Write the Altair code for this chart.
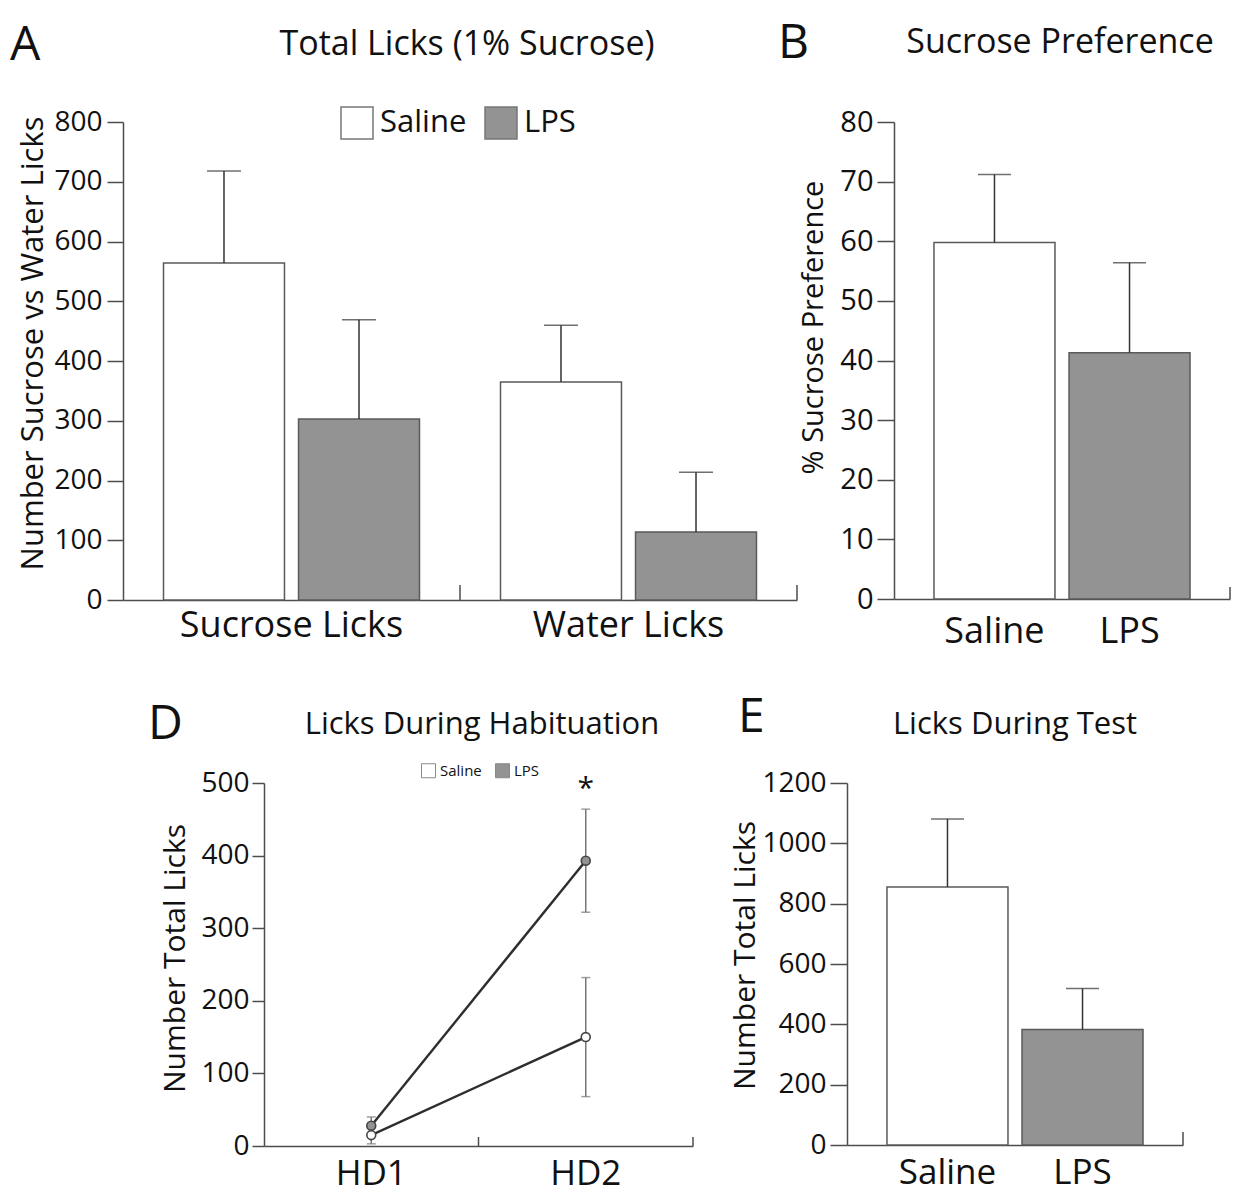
import altair as alt
import pandas as pd

FONT = "Open Sans"
AX = "#4d4d4d"
INK = "#111111"

groups = ["Saline", "LPS"]
group_fills = ["#ffffff", "#939393"]

panel_letters = ["A", "B", "D", "E"]
panel_titles = ["Total Licks (1% Sucrose)", "Sucrose Preference",
                "Licks During Habituation", "Licks During Test"]

# Panel A
a_categories = ["Sucrose Licks", "Water Licks"]
a_saline_mean = [564, 365]
a_saline_sem = [154, 95]
a_lps_mean = [303, 114]
a_lps_sem = [166, 100]
a_ticks = [0, 100, 200, 300, 400, 500, 600, 700, 800]

# Panel B
b_mean = [59.8, 41.3]
b_sem = [11.4, 15.1]
b_ticks = [0, 10, 20, 30, 40, 50, 60, 70, 80]

# Panel D
d_days = ["HD1", "HD2"]
d_saline_mean = [15, 150]
d_saline_sem = [12, 82]
d_lps_mean = [28, 393]
d_lps_sem = [12, 71]
d_ticks = [0, 100, 200, 300, 400, 500]
d_sig_day = ["HD2"]
d_sig_y = [480]

# Panel E
e_mean = [855, 383]
e_sem = [226, 136]
e_ticks = [0, 200, 400, 600, 800, 1000, 1200]


def yaxis(values, title, tick, pad, lab_fs, tx, ty, tfs):
    return alt.Axis(values=values, title=title, tickSize=tick, labelPadding=pad,
                    labelFontSize=lab_fs, labelFont=FONT, labelColor=INK, format="d",
                    titleX=tx, titleY=ty, titleFontSize=tfs, titleFont=FONT,
                    titleFontWeight="normal", titleColor=INK, grid=False,
                    domainColor=AX, tickColor=AX, domainWidth=1.5, tickWidth=1.5,
                    labelFlush=False, labelOverlap=False)


def xaxis(pad, fs=36):
    return alt.Axis(title=None, ticks=False, labelAngle=0, labelFontSize=fs,
                    labelFont=FONT, labelColor=INK, labelPadding=pad, labelLimit=500,
                    domainColor=AX, domainWidth=1.5)


def text_layer(txt, dx, dy, fs, align="left"):
    return alt.Chart(pd.DataFrame({"t": [txt]})).mark_text(
        align=align, baseline="alphabetic", fontSize=fs, font=FONT, color=INK
    ).encode(text="t:N", x=alt.value(dx), y=alt.value(dy))


def end_tick(xpx, h, ln):
    return alt.Chart(pd.DataFrame({"k": [0]})).mark_rule(color=AX, strokeWidth=1.5).encode(
        x=alt.value(xpx), y=alt.value(h - ln), y2=alt.value(h))


def spacer(w, h):
    return alt.Chart(pd.DataFrame({"k": [0]})).mark_text(text="").encode(
        x=alt.value(0), y=alt.value(0)).properties(width=w, height=h)


# ---------------- Panel A ----------------
AW, AH = 674, 478
a_df = pd.DataFrame({
    "category": a_categories + a_categories,
    "group": ["Saline", "Saline", "LPS", "LPS"],
    "mean": a_saline_mean + a_lps_mean,
    "sem": a_saline_sem + a_lps_sem,
})
a_df["upper"] = a_df["mean"] + a_df["sem"]
a_base = alt.Chart(a_df)
a_x = alt.X("category:N", sort=a_categories,
            scale=alt.Scale(paddingInner=0, paddingOuter=0), axis=xaxis(8))
a_xo = alt.XOffset("group:N", sort=groups,
                   scale=alt.Scale(domain=groups, paddingInner=0.104, paddingOuter=0.3))
a_yscale = alt.Scale(domain=[0, 800], nice=False)
a_yaxis = yaxis(a_ticks, "Number Sucrose vs Water Licks", 16, 5, 28, -74, 221, 31)
a_bars = a_base.mark_bar(stroke="#5a5a5a", strokeWidth=1.5).encode(
    x=a_x, xOffset=a_xo,
    y=alt.Y("mean:Q", scale=a_yscale, axis=a_yaxis),
    fill=alt.Fill("group:N", sort=groups,
                  scale=alt.Scale(domain=groups, range=group_fills),
                  legend=alt.Legend(title=None, orient="none", legendX=217, legendY=-16,
                                    direction="horizontal", symbolType="square",
                                    symbolSize=1024, symbolStrokeColor="#777777",
                                    symbolStrokeWidth=1.5, labelFontSize=31, labelFont=FONT,
                                    labelColor=INK, labelOffset=6, columnPadding=15,
                                    padding=0)),
)
a_err = a_base.mark_rule(color="#333333", strokeWidth=1.5).encode(
    x=a_x, xOffset=a_xo, y=alt.Y("mean:Q", scale=a_yscale, axis=a_yaxis), y2="upper:Q")
a_cap = a_base.mark_tick(orient="horizontal", size=34, thickness=1.5, color="#333333").encode(
    x=a_x, xOffset=a_xo, y=alt.Y("upper:Q", scale=a_yscale, axis=a_yaxis))
panel_a = alt.layer(
    a_bars, a_err, a_cap,
    end_tick(AW / 2, AH, 15), end_tick(AW, AH, 15),
    text_layer(panel_letters[0], -113, -62, 48),
    text_layer(panel_titles[0], 344, -67, 34, "center"),
).properties(width=AW, height=AH)

# ---------------- Panel B ----------------
BW, BH = 336, 477
b_df = pd.DataFrame({"group": groups, "mean": b_mean, "sem": b_sem})
b_df["upper"] = b_df["mean"] + b_df["sem"]
b_base = alt.Chart(b_df)
b_x = alt.X("group:N", sort=groups,
            scale=alt.Scale(paddingInner=0.104, paddingOuter=0.296), axis=xaxis(15))
b_yscale = alt.Scale(domain=[0, 80], nice=False)
b_yaxis = yaxis(b_ticks, "% Sucrose Preference", 17, 4, 29, -66, 205, 29)
b_bars = b_base.mark_bar(stroke="#5a5a5a", strokeWidth=1.5).encode(
    x=b_x,
    y=alt.Y("mean:Q", scale=b_yscale, axis=b_yaxis),
    fill=alt.Fill("group:N", sort=groups,
                  scale=alt.Scale(domain=groups, range=group_fills), legend=None),
)
b_err = b_base.mark_rule(color="#333333", strokeWidth=1.5).encode(
    x=b_x, y=alt.Y("mean:Q", scale=b_yscale, axis=b_yaxis), y2="upper:Q")
b_cap = b_base.mark_tick(orient="horizontal", size=33, thickness=1.5, color="#333333").encode(
    x=b_x, y=alt.Y("upper:Q", scale=b_yscale, axis=b_yaxis))
panel_b = alt.layer(
    b_bars, b_err, b_cap,
    end_tick(BW, BH, 12),
    text_layer(panel_letters[1], -116, -64, 48),
    text_layer(panel_titles[1], 166, -69, 34, "center"),
).properties(width=BW, height=BH)

# ---------------- Panel D ----------------
DW, DH = 429, 363
d_df = pd.DataFrame({
    "day": d_days + d_days,
    "group": ["Saline", "Saline", "LPS", "LPS"],
    "mean": d_saline_mean + d_lps_mean,
    "sem": d_saline_sem + d_lps_sem,
})
d_df["low"] = d_df["mean"] - d_df["sem"]
d_df["high"] = d_df["mean"] + d_df["sem"]
d_base = alt.Chart(d_df)
d_x = alt.X("day:N", sort=d_days, scale=alt.Scale(paddingInner=0, paddingOuter=0),
            axis=xaxis(10, 35))
d_yscale = alt.Scale(domain=[0, 500], nice=False)
d_yaxis = yaxis(d_ticks, "Number Total Licks", 12, 3, 28, -74, 175, 30)
d_err = d_base.mark_rule(color="#777777", strokeWidth=1.5).encode(
    x=d_x, y=alt.Y("low:Q", scale=d_yscale, axis=d_yaxis), y2="high:Q")
d_cap_hi = d_base.mark_tick(orient="horizontal", size=9, thickness=1.5, color="#777777").encode(
    x=d_x, y=alt.Y("high:Q", scale=d_yscale, axis=d_yaxis))
d_cap_lo = d_base.mark_tick(orient="horizontal", size=9, thickness=1.5, color="#777777").encode(
    x=d_x, y=alt.Y("low:Q", scale=d_yscale, axis=d_yaxis))
d_lines = d_base.mark_line(color="#2e2e2e", strokeWidth=2.4).encode(
    x=d_x, y=alt.Y("mean:Q", scale=d_yscale, axis=d_yaxis), detail="group:N")
d_points = d_base.mark_point(filled=True, shape="circle", size=80, stroke="#444444",
                             strokeWidth=1.6, opacity=1).encode(
    x=d_x, y=alt.Y("mean:Q", scale=d_yscale, axis=d_yaxis),
    fill=alt.Fill("group:N", sort=groups,
                  scale=alt.Scale(domain=groups, range=group_fills),
                  legend=alt.Legend(title=None, orient="none", legendX=298, legendY=-20,
                                    direction="horizontal", symbolType="square",
                                    symbolSize=196, symbolStrokeColor="#888888",
                                    symbolStrokeWidth=1, labelFontSize=15, labelFont=FONT,
                                    labelColor=INK, labelOffset=4, columnPadding=11,
                                    padding=0)),
)
d_sig = alt.Chart(pd.DataFrame({"day": d_sig_day, "y": d_sig_y, "t": ["*"]})).mark_text(
    fontSize=30, font=FONT, color=INK, baseline="alphabetic").encode(
    x=d_x, y=alt.Y("y:Q", scale=d_yscale, axis=d_yaxis), text="t:N")
panel_d = alt.layer(
    d_err, d_cap_hi, d_cap_lo, d_lines, d_points, d_sig,
    end_tick(DW / 2, DH, 9), end_tick(DW, DH, 9),
    text_layer(panel_letters[2], -116, -44, 48),
    text_layer(panel_titles[2], 218, -49, 31, "center"),
).properties(width=DW, height=DH)

# ---------------- Panel E ----------------
EW, EH = 336, 362
e_df = pd.DataFrame({"group": groups, "mean": e_mean, "sem": e_sem})
e_df["upper"] = e_df["mean"] + e_df["sem"]
e_base = alt.Chart(e_df)
e_x = alt.X("group:N", sort=groups,
            scale=alt.Scale(paddingInner=0.104, paddingOuter=0.296), axis=xaxis(10, 35))
e_yscale = alt.Scale(domain=[0, 1200], nice=False)
e_yaxis = yaxis(e_ticks, "Number Total Licks", 17, 4, 28, -87, 172, 30)
e_bars = e_base.mark_bar(stroke="#5a5a5a", strokeWidth=1.5).encode(
    x=e_x,
    y=alt.Y("mean:Q", scale=e_yscale, axis=e_yaxis),
    fill=alt.Fill("group:N", sort=groups,
                  scale=alt.Scale(domain=groups, range=group_fills), legend=None),
)
e_err = e_base.mark_rule(color="#333333", strokeWidth=1.5).encode(
    x=e_x, y=alt.Y("mean:Q", scale=e_yscale, axis=e_yaxis), y2="upper:Q")
e_cap = e_base.mark_tick(orient="horizontal", size=33, thickness=1.5, color="#333333").encode(
    x=e_x, y=alt.Y("upper:Q", scale=e_yscale, axis=e_yaxis))
panel_e = alt.layer(
    e_bars, e_err, e_cap,
    end_tick(EW, EH, 13),
    text_layer(panel_letters[3], -109, -51, 48),
    text_layer(panel_titles[3], 168, -49, 31, "center"),
).properties(width=EW, height=EH)

row1 = alt.hconcat(panel_a, spacer(97, 1), panel_b, spacing=0, bounds="flush")
row2 = alt.hconcat(spacer(141, 1), panel_d, spacer(154, 1), panel_e, spacing=0, bounds="flush")

chart = alt.vconcat(
    row1, row2, spacing=45,
    padding={"left": 10, "top": 20, "right": 0, "bottom": 6},
).resolve_scale(fill="independent", x="independent", y="independent").configure(
    font=FONT
).configure_view(stroke=None)

chart.save("out.html", embed_options={"renderer": "svg", "actions": False})
